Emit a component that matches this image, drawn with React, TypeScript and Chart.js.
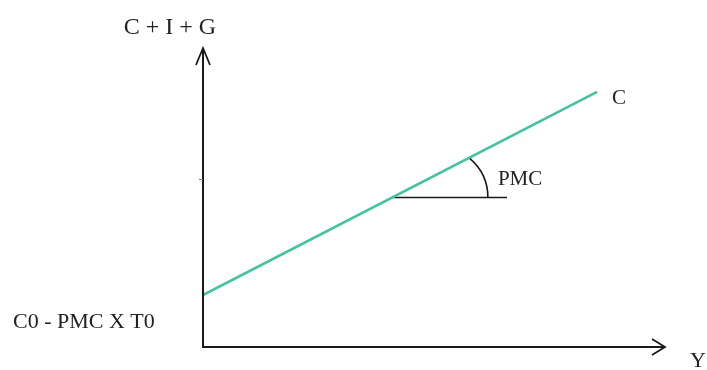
import React, { useEffect, useRef } from "react";
import { Chart, registerables } from "chart.js";

Chart.register(...registerables);

// ---- data (chart coordinates: both axes run 0..100) ----
const consumptionX = [0, 85.3];
const consumptionY = [17.4, 85.3];
const slopeBaseX = [41.1, 65.8];
const slopeBaseY = [50.0, 50.0];
const yMinorTicks = [56.2];

const yAxisTitle = "C + I + G";
const xAxisTitle = "Y";
const interceptLabel = "C0 - PMC X T0";
const lineLabel = "C";
const slopeLabel = "PMC";

const LINE_COLOR = "#45c29f";
const INK = "#1a1a1a";
const SERIF = '"Liberation Serif", "Times New Roman", serif';

const decorPlugin = {
  id: "decor",
  afterDraw(chart: any) {
    const { ctx, chartArea, scales } = chart;
    const { left, right, top, bottom } = chartArea;
    const xs = scales.x;
    const ys = scales.y;
    ctx.save();

    // axes
    ctx.strokeStyle = INK;
    ctx.lineWidth = 2;
    ctx.lineCap = "butt";
    ctx.beginPath();
    ctx.moveTo(left, bottom);
    ctx.lineTo(left, top + 1);
    ctx.moveTo(left - 1, bottom);
    ctx.lineTo(right - 1, bottom);
    ctx.stroke();

    // arrow heads (open chevrons)
    ctx.lineWidth = 1.8;
    ctx.lineJoin = "miter";
    ctx.beginPath();
    ctx.moveTo(left - 7, top + 17);
    ctx.lineTo(left, top);
    ctx.lineTo(left + 7, top + 17);
    ctx.moveTo(right - 13, bottom - 8);
    ctx.lineTo(right, bottom);
    ctx.lineTo(right - 13, bottom + 8);
    ctx.stroke();

    // minor y ticks
    ctx.strokeStyle = "#777";
    ctx.lineWidth = 1;
    yMinorTicks.forEach((v) => {
      const py = Math.round(ys.getPixelForValue(v)) + 0.5;
      ctx.beginPath();
      ctx.moveTo(left - 4, py);
      ctx.lineTo(left, py);
      ctx.stroke();
    });

    // slope arc
    const vx = xs.getPixelForValue(slopeBaseX[0]);
    const vy = ys.getPixelForValue(slopeBaseY[0]);
    ctx.strokeStyle = INK;
    ctx.lineWidth = 1.6;
    ctx.beginPath();
    ctx.arc(vx + 44, vy, 51, (-49.5 * Math.PI) / 180, 0);
    ctx.stroke();

    // texts
    ctx.fillStyle = "#222";
    ctx.textBaseline = "alphabetic";

    ctx.font = "24px " + SERIF;
    ctx.textAlign = "center";
    ctx.fillText(yAxisTitle, left - 33, 34);

    ctx.font = "22px " + SERIF;
    ctx.textAlign = "left";
    ctx.fillText(xAxisTitle, right + 25, bottom + 20);
    ctx.fillText(interceptLabel, 13, 328);

    ctx.font = "21px " + SERIF;
    const ex = xs.getPixelForValue(consumptionX[1]);
    const ey = ys.getPixelForValue(consumptionY[1]);
    ctx.fillText(lineLabel, ex + 15, ey + 12);

    ctx.fillText(slopeLabel, vx + 105, vy - 13);

    ctx.restore();
  },
};

export default function App() {
  const canvasRef = useRef<HTMLCanvasElement | null>(null);

  useEffect(() => {
    if (!canvasRef.current) return;
    const chart = new Chart(canvasRef.current, {
      type: "scatter",
      data: {
        datasets: [
          {
            label: lineLabel,
            data: consumptionX.map((x, i) => ({ x, y: consumptionY[i] })),
            showLine: true,
            borderColor: LINE_COLOR,
            borderWidth: 2.6,
            pointRadius: 0,
            fill: false,
          },
          {
            label: slopeLabel,
            data: slopeBaseX.map((x, i) => ({ x, y: slopeBaseY[i] })),
            showLine: true,
            borderColor: INK,
            borderWidth: 1.6,
            pointRadius: 0,
            fill: false,
          },
        ],
      },
      options: {
        animation: false,
        responsive: true,
        maintainAspectRatio: false,
        layout: { padding: { left: 203, right: 42, top: 48, bottom: 23 } },
        plugins: {
          legend: { display: false },
          tooltip: { enabled: false },
          title: { display: false },
        },
        scales: {
          x: { type: "linear", min: 0, max: 100, display: false },
          y: { type: "linear", min: 0, max: 100, display: false },
        },
      },
      plugins: [decorPlugin],
    });
    return () => chart.destroy();
  }, []);

  return (
    <div
      style={{
        position: "fixed",
        left: 0,
        top: 0,
        width: 707,
        height: 370,
        background: "#fff",
      }}
    >
      <canvas ref={canvasRef} />
    </div>
  );
}
